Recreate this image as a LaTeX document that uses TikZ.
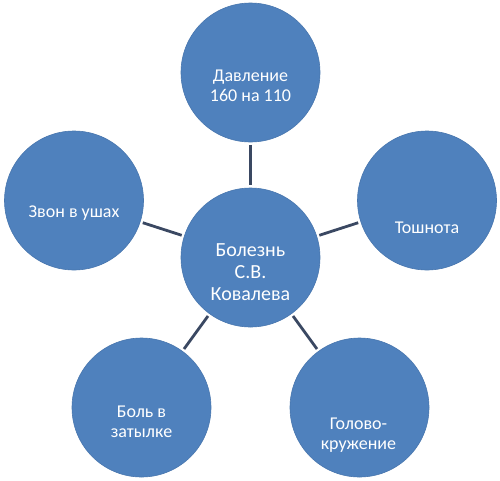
\documentclass[tikz,border=0pt]{standalone}
\usepackage{fontspec}
\setmainfont{Carlito}
\definecolor{bubble}{RGB}{79,129,189}
\definecolor{bubbleedge}{RGB}{72,118,174}
\definecolor{linkc}{RGB}{58,72,98}
\begin{document}
\begin{tikzpicture}[x=1pt,y=-1pt,
  bubble/.style={circle,fill=bubble,draw=bubbleedge,line width=0.6pt,minimum size=139pt,inner sep=0pt},
  label/.style={text=white,font=\fontsize{18}{20.5}\selectfont,align=center,inner sep=0pt},
  biglabel/.style={label,font=\fontsize{20}{22}\selectfont},
  link/.style={draw=linkc,line width=2.8pt,shorten <=2.5pt,shorten >=2.5pt}]
\useasboundingbox (0,0) rectangle (500,480);
\node[bubble] (c) at (250.5,257.5) {};
\node[bubble] (t) at (250.5,72.5) {};
\node[bubble] (l) at (74,200.5) {};
\node[bubble] (r) at (427,200.5) {};
\node[bubble] (bl) at (141.5,407.5) {};
\node[bubble] (br) at (359.5,407.5) {};
\draw[link] (t) -- (c);
\draw[link] (l) -- (c);
\draw[link] (r) -- (c);
\draw[link] (bl) -- (c);
\draw[link] (br) -- (c);
\node[label] (tc) at (250.5,86) {Давление\\160 на 110};
\node[label] (lc) at (74,213) {Звон в ушах};
\node[label] (rc) at (427,228) {Тошнота};
\node[biglabel] (cc) at (250.5,272) {Болезнь\\С.В.\\Ковалева};
\node[label] (blc) at (141.5,422) {Боль в\\затылке};
\node[label] (brc) at (358.5,435) {Голово-\\кружение};
\end{tikzpicture}
\end{document}
